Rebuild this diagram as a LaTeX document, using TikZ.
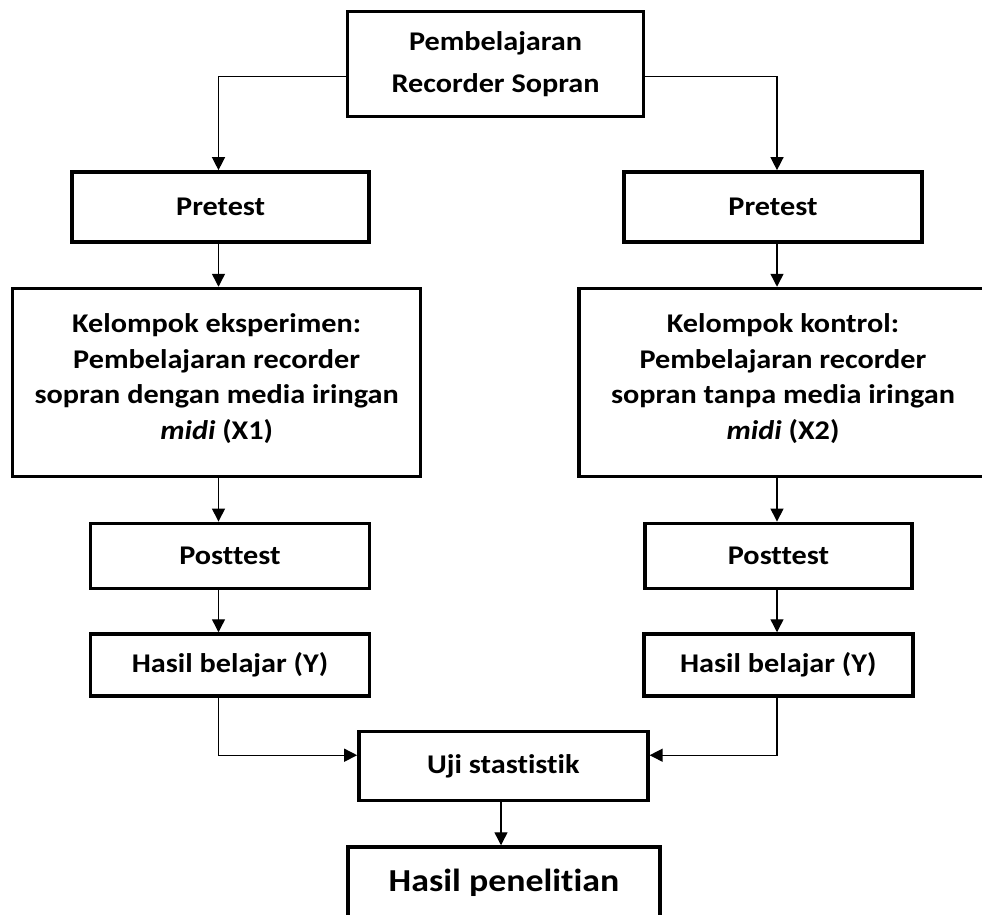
\documentclass[tikz,border=0pt]{standalone}
\usepackage{fontspec}
\setmainfont[FakeStretch=1.12,Ligatures=NoCommon]{Carlito}
\usetikzlibrary{arrows.meta,calc}
\begin{document}
\begin{tikzpicture}[x=1pt,y=-1pt,
  box/.style={draw=black,line width=3.5pt,rectangle,align=center,inner sep=0pt,
    font=\fontsize{27}{35.7}\selectfont\bfseries},
  conn/.style={line width=1.4pt,-{Triangle[length=13pt,width=13pt]}}]
\useasboundingbox (0,0) rectangle (982,914);
\node[box,minimum width=296pt,minimum height=105pt,font=\fontsize{27}{41.7}\selectfont\bfseries] (top) at (495.6,64.2) {Pembelajaran\\Recorder Sopran};
\node[box,minimum width=297pt,minimum height=70pt] (preL) at (220.7,206.9) {Pretest};
\node[box,minimum width=298pt,minimum height=70pt] (preR) at (773,206.9) {Pretest};
\node[box,minimum width=408pt,minimum height=188pt] (kelL) at (216.7,382.5) {Kelompok eksperimen:\\Pembelajaran recorder\\sopran dengan media iringan\\\textit{midi} (X1)\\[-24pt]};
\node[box,minimum width=408pt,minimum height=188pt] (kelR) at (783,382.5) {Kelompok kontrol:\\Pembelajaran recorder\\sopran tanpa media iringan\\\textit{midi} (X2)\\[-24pt]};
\node[box,minimum width=279pt,minimum height=65pt] (postL) at (230,555.8) {Posttest};
\node[box,minimum width=267pt,minimum height=65pt] (postR) at (778.5,555.8) {Posttest};
\node[box,minimum width=279pt,minimum height=62pt] (hasL) at (230,665) {Hasil belajar (Y)};
\node[box,minimum width=269pt,minimum height=62pt] (hasR) at (778.3,665) {Hasil belajar (Y)};
\node[box,minimum width=289pt,minimum height=69pt] (uji) at (503.4,766.2) {Uji stastistik};
\node[box,minimum width=312pt,minimum height=72pt,font=\fontsize{32}{38}\selectfont\bfseries] (pen) at (504,883) {Hasil penelitian};
\coordinate (cL) at (218.5,0);
\coordinate (cR) at (777,0);
\draw[conn] ([yshift=-12.5pt]top.west) -| (cL |- preL.north);
\draw[conn] ([yshift=-12.5pt]top.east) -| (cR |- preR.north);
\draw[conn] (cL |- preL.south) -- (cL |- kelL.north);
\draw[conn] (cR |- preR.south) -- (cR |- kelR.north);
\draw[conn] (cL |- kelL.south) -- (cL |- postL.north);
\draw[conn] (cR |- kelR.south) -- (cR |- postR.north);
\draw[conn] (cL |- postL.south) -- (cL |- hasL.north);
\draw[conn] (cR |- postR.south) -- (cR |- hasR.north);
\draw[conn] (cL |- hasL.south) |- ([yshift=11pt]uji.west);
\draw[conn] (cR |- hasR.south) |- ([yshift=11pt]uji.east);
\draw[conn] ([xshift=-2.4pt]uji.south) -- ([xshift=-3pt]pen.north);
\end{tikzpicture}
\end{document}
